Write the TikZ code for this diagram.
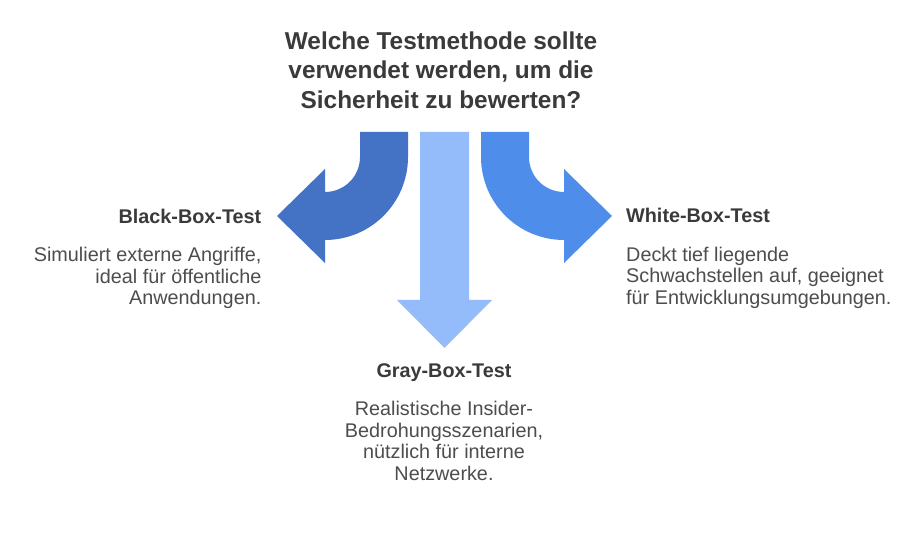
\documentclass[tikz,border=0pt]{standalone}
\usepackage{fontspec}
\setmainfont{Liberation Sans}
\usepackage{tikz}
\usetikzlibrary{positioning}
\definecolor{blackbox}{HTML}{4472C4}
\definecolor{graybox}{HTML}{94BCFA}
\definecolor{whitebox}{HTML}{4F8DEB}
\definecolor{heading}{HTML}{3A3A3A}
\definecolor{bodytext}{HTML}{4D4D4D}
\tikzset{
    titel/.style={font=\fontsize{24.4}{29.5}\selectfont\bfseries, text=heading, align=center, inner sep=0pt},
    kopf/.style={font=\fontsize{19.8}{21.5}\selectfont\bfseries, text=heading, inner sep=0pt},
    beschr/.style={font=\fontsize{19.8}{21.5}\selectfont, text=bodytext, inner sep=0pt}
}

\begin{document}
\begin{tikzpicture}[x=1pt,y=1pt]
                \useasboundingbox[fill=white] (0,0) rectangle (924,540);
                % Frage
                \node[titel, anchor=north] (frage) at (441,508.8)
                    {Welche Testmethode sollte\\verwendet werden, um die\\Sicherheit zu bewerten?};
                % Pfeile
                \fill[blackbox] (360,408) -- (408,408) -- (408,383)
                    arc[start angle=0, end angle=-90, radius=83] -- (325,277)
                    -- (277,324) -- (325,371) -- (325,348)
                    arc[start angle=-90, end angle=0, radius=35] -- cycle;
                \fill[graybox] (420,408) -- (469,408) -- (469,240) -- (492,240)
                    -- (444.5,192) -- (397,240) -- (420,240) -- cycle;
                \fill[whitebox] (529,408) -- (481,408) -- (481,383)
                    arc[start angle=180, end angle=270, radius=83] -- (564,277)
                    -- (612,324) -- (564,371) -- (564,348)
                    arc[start angle=270, end angle=180, radius=35] -- cycle;
                % Black-Box
                \node[kopf, anchor=base east] (black) at (261.5,316.7) {Black-Box-Test};
                \node[beschr, anchor=north east, align=right] (blacktext) at (261.5,292.7)
                    {Simuliert externe Angriffe,\\ideal für öffentliche\\Anwendungen.};
                % White-Box
                \node[kopf, anchor=base west] (white) at (626,317.3) {White-Box-Test};
                \node[beschr, anchor=north west, align=left] (whitetext) at (626,293.4)
                    {Deckt tief liegende\\Schwachstellen auf, geeignet\\für Entwicklungsumgebungen.};
                % Gray-Box
                \node[kopf, anchor=base] (gray) at (444,162.7) {Gray-Box-Test};
                \node[beschr, anchor=north, align=center] (graytext) at (444,138.7)
                    {Realistische Insider-\\Bedrohungsszenarien,\\nützlich für interne\\Netzwerke.};
\end{tikzpicture}
\end{document}
